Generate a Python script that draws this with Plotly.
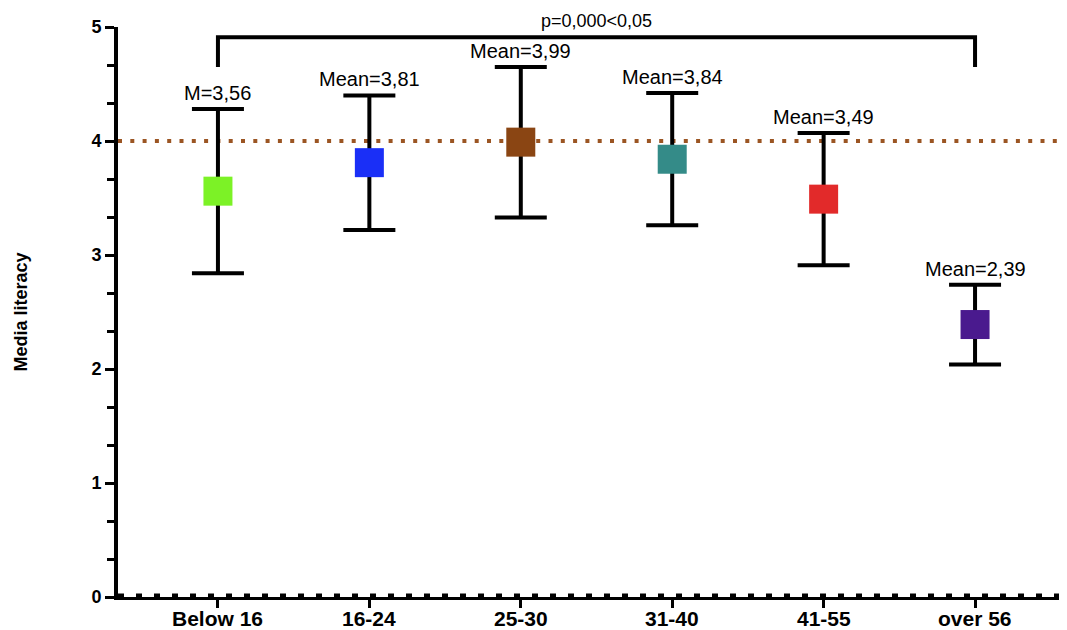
import plotly.graph_objects as go

categories = ["Below 16", "16-24", "25-30", "31-40", "41-55", "over 56"]
means = [3.56, 3.81, 3.99, 3.84, 3.49, 2.39]
errors = [0.72, 0.59, 0.66, 0.58, 0.58, 0.35]
labels = ["M=3,56", "Mean=3,81", "Mean=3,99", "Mean=3,84", "Mean=3,49", "Mean=2,39"]
colors = ["#7CF226", "#1A2FF7", "#8A4513", "#348B88", "#E22A2A", "#4A1A8E"]
reference_level = 4.0
bracket_top = 4.91
bracket_end = 4.65
p_text = "p=0,000<0,05"

xpos = list(range(len(categories)))

fig = go.Figure()
fig.add_trace(go.Scatter(
    x=xpos, y=means, mode="markers",
    marker=dict(symbol="square", size=29, color=colors, line=dict(width=0)),
    error_y=dict(type="data", array=errors, visible=True, color="black",
                 thickness=4, width=26),
    showlegend=False, cliponaxis=False,
))

for i, (m, e, lab) in enumerate(zip(means, errors, labels)):
    fig.add_annotation(x=i, y=m + e, text=lab, showarrow=False,
                       yanchor="bottom", yshift=3,
                       font=dict(family="Liberation Sans, Arial", size=20, color="black"))

# category labels under the axis
for i, c in enumerate(categories):
    fig.add_annotation(x=i, xref="x", y=0, yref="paper", text=f"<b>{c}</b>",
                       showarrow=False, yanchor="middle", yshift=-21,
                       font=dict(family="Liberation Sans, Arial", size=21, color="black"))

# reference dotted line at y=4
fig.add_shape(type="line", xref="paper", x0=0, x1=1, yref="y",
              y0=reference_level, y1=reference_level,
              line=dict(color="#9B5523", width=4, dash="4px,8.3px"), layer="below")

# dotted x axis overlay
fig.add_shape(type="line", xref="paper", x0=0, x1=1, yref="y", y0=0, y1=0,
              line=dict(color="black", width=7, dash="6px,12px"), layer="above")

# significance bracket
first, last = xpos[0], xpos[-1]
fig.add_shape(type="path",
              path=f"M {first},{bracket_end} L {first},{bracket_top} L {last},{bracket_top} L {last},{bracket_end}",
              line=dict(color="black", width=4), layer="above")
fig.add_annotation(x=(first + last) / 2, y=bracket_top, text=p_text, showarrow=False,
                   yanchor="bottom", yshift=4,
                   font=dict(family="Liberation Sans, Arial", size=18, color="black"))

fig.update_layout(
    width=1059, height=622,
    margin=dict(l=110, r=2, t=19, b=33),
    paper_bgcolor="white", plot_bgcolor="white",
    font=dict(family="Liberation Sans, Arial", color="black"),
    xaxis=dict(range=[-0.66, 5.594], tickvals=xpos, showticklabels=False,
               showline=True, linecolor="black",
               linewidth=3, ticks="outside", ticklen=8, tickwidth=3, tickcolor="black",
               showgrid=False, zeroline=False, automargin=False),
    yaxis=dict(range=[0, 5], tickvals=[0, 1, 2, 3, 4, 5],
               ticktext=["<b>0</b>", "<b>1</b>", "<b>2</b>", "<b>3</b>", "<b>4</b>", "<b>5</b>"],
               tickfont=dict(size=18, color="black"), showline=True, linecolor="black",
               linewidth=4, ticks="outside", ticklen=9, tickwidth=3, tickcolor="black",
               minor=dict(tickvals=[1/3, 2/3, 4/3, 5/3, 7/3, 8/3, 10/3, 11/3, 13/3, 14/3],
                          ticks="outside", ticklen=7, tickwidth=3, tickcolor="black"),
               showgrid=False, zeroline=False, automargin=False,
               title=dict(text="<b>Media literacy</b>", font=dict(size=18, color="black"), standoff=60)),
)

fig.write_html("out.html")
